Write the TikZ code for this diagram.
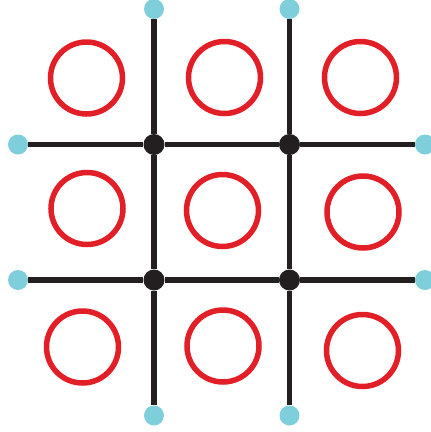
\documentclass[tikz,border=0pt]{standalone}
\definecolor{ringred}{RGB}{226,30,38}
\definecolor{tipblue}{RGB}{126,206,220}
\definecolor{gridblack}{RGB}{35,31,32}
\tikzset{
  ring/.style={draw=ringred, line width=5.5pt},
  bar/.style={draw=gridblack, line width=5.5pt},
  tip/.style={circle, fill=tipblue, inner sep=0pt, minimum size=20pt},
  joint/.style={circle, fill=gridblack, inner sep=0pt, minimum size=21pt},
}

\begin{document}
\begin{tikzpicture}[x=1pt,y=-1pt]
\useasboundingbox (0,0) rectangle (431,432);
% rings
\foreach \cx/\cy in {86.5/78, 224.5/77.5, 360.5/77.5,
                     87/208.5, 222.5/210.5, 363/212,
                     82.5/347, 223/346, 362.5/350.5}
  \draw[ring] (\cx,\cy) circle (36);
% ends and crossings
\node[tip] (n1) at (154,9) {};
\node[tip] (n2) at (289.5,9) {};
\node[tip] (w1) at (18,144.5) {};
\node[tip] (w2) at (18,280) {};
\node[tip] (e1) at (425,144.5) {};
\node[tip] (e2) at (425,280) {};
\node[tip] (s1) at (154,415.5) {};
\node[tip] (s2) at (289.5,415.5) {};
\node[joint] (j11) at (154,144.5) {};
\node[joint] (j12) at (289.5,144.5) {};
\node[joint] (j21) at (154,280) {};
\node[joint] (j22) at (289.5,280) {};
% grid lines
\draw[bar] (n1) -- (j11) -- (j21) -- (s1);
\draw[bar] (n2) -- (j12) -- (j22) -- (s2);
\draw[bar] (w1) -- (j11) -- (j12) -- (e1);
\draw[bar] (w2) -- (j21) -- (j22) -- (e2);
\end{tikzpicture}
\end{document}
